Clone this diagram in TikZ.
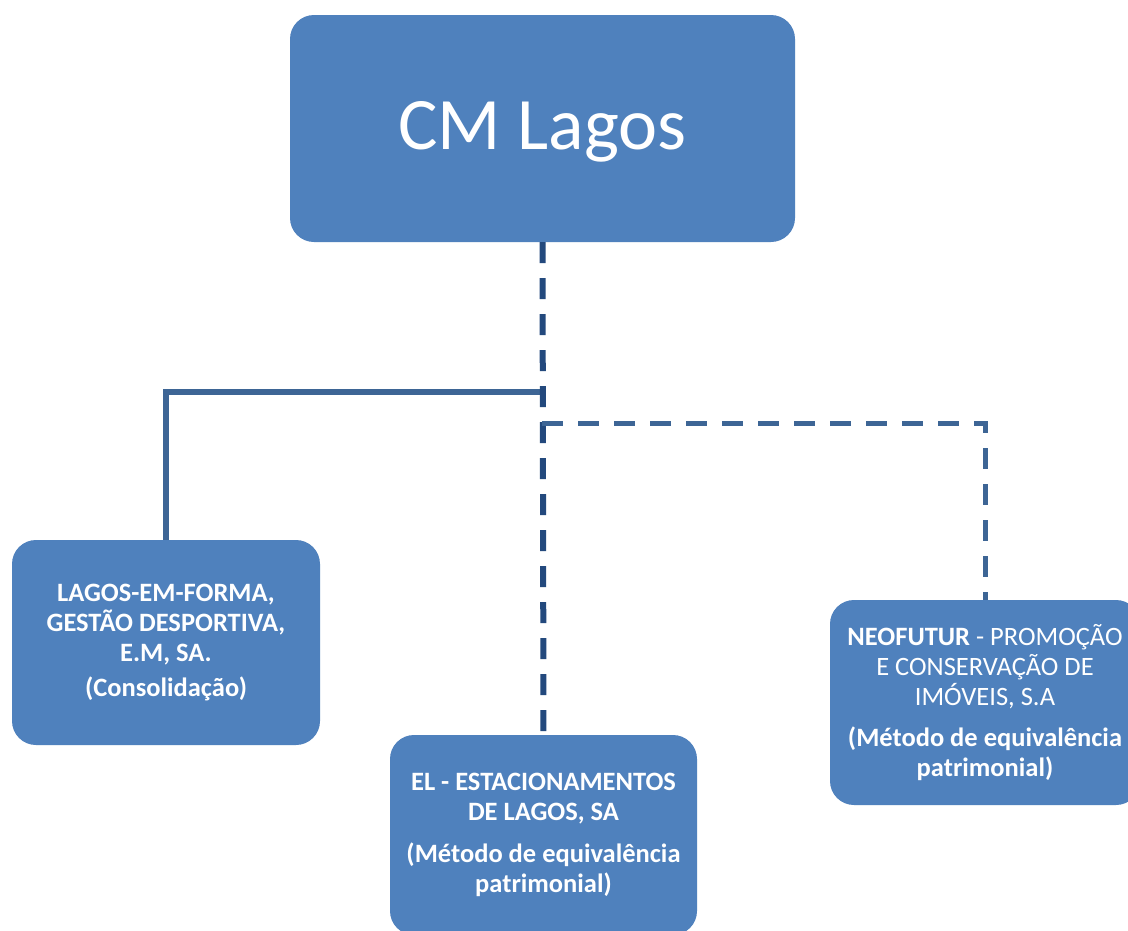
\documentclass[tikz,border=0pt]{standalone}
\usepackage{fontspec}
\setmainfont{Carlito}
\definecolor{boxblue}{HTML}{4F81BD}
\definecolor{linedark}{HTML}{23497D}
\definecolor{linemid}{HTML}{3D6595}
\begin{document}
\begin{tikzpicture}[x=1pt,y=-1pt,
  orgbox/.style={fill=boxblue,rounded corners=24pt,text=white,align=center,inner sep=0pt},
  solidlink/.style={draw=linemid,line width=6pt},
  dashlinkdark/.style={draw=linedark,line width=6pt,dash pattern=on 21pt off 15pt},
  dashlink/.style={draw=linemid,line width=5pt,dash pattern=on 21pt off 15pt},
  boxfont/.style={font=\fontsize{26.5}{30}\selectfont}
]
\clip (0,0) rectangle (1128,930);
\fill[white] (0,0) rectangle (1128,930);
\node[orgbox,minimum width=505pt,minimum height=227pt] (cm) at (542.5,128.5) {};
\node[text=white,inner sep=0pt,font=\fontsize{74}{80}\selectfont] (cmtext) at (542.5,131.5) {CM Lagos};
\node[orgbox,boxfont,minimum width=308pt,minimum height=205pt] (lef) at (166,642.5)
  {\bfseries LAGOS-EM-FORMA,\\\bfseries GESTÃO DESPORTIVA,\\\bfseries E.M, SA.\\[5pt]\bfseries (Consolidação)};
\node[orgbox,boxfont,minimum width=307pt,minimum height=200pt] (el) at (543.5,835)
  {\bfseries EL - ESTACIONAMENTOS\\\bfseries DE LAGOS, SA\\[12pt]\bfseries (Método de equivalência\\\bfseries patrimonial)};
\node[orgbox,boxfont,minimum width=310pt,minimum height=205pt] (neo) at (985,702.5)
  {\textbf{NEOFUTUR} - PROMOÇÃO\\E CONSERVAÇÃO DE\\IMÓVEIS, S.A\\[11pt]\bfseries (Método de equivalência\\\bfseries patrimonial)};
\coordinate (j1) at (542,392);
\coordinate (j2) at (542,423);
\draw[solidlink] (j1) -| (lef.north);
\draw[dashlinkdark] (cm.south) -- (el.north);
\draw[dashlink] (j2) -| (neo.north);
\end{tikzpicture}
\end{document}
